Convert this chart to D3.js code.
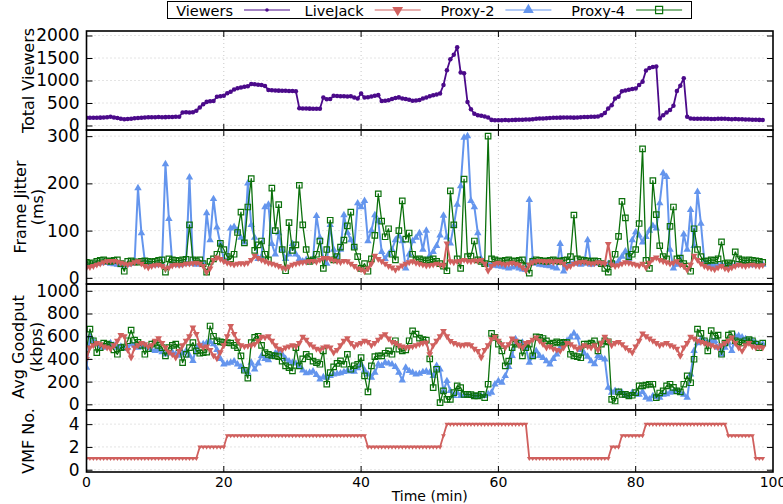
<!DOCTYPE html>
<html>
<head>
<meta charset="utf-8">
<script src="https://cdn.jsdelivr.net/npm/d3@7"></script>
<style>
  body { margin: 0; background: #fff; }
  svg { display: block; font-family: "DejaVu Sans", sans-serif; }
</style>
</head>
<body>
<svg id="viz" width="783" height="504"></svg>
<script>
// all series are sampled every half minute, starting at t = 0
const timeStep = 0.5;

const viewers = [
  170, 172, 170, 172, 175, 178, 185, 192, 180, 165,
  150, 140, 145, 152, 160, 165, 172, 180, 185, 182,
  185, 188, 183, 186, 190, 188, 192, 195, 290, 292,
  288, 295, 330, 400, 470, 525, 540, 545, 640, 650,
  660, 715, 750, 800, 830, 845, 860, 870, 920, 915,
  905, 900, 880, 790, 785, 780, 775, 772, 770, 765,
  765, 762, 385, 380, 378, 375, 372, 370, 372, 620,
  585, 590, 660, 655, 650, 648, 645, 650, 620, 600,
  710, 620, 630, 645, 660, 675, 545, 550, 560, 590,
  610, 625, 600, 590, 570, 550, 555, 565, 600, 620,
  650, 670, 690, 710, 900, 1230, 1470, 1570, 1740, 1180,
  1160, 520, 360, 260, 230, 215, 200, 180, 125, 118,
  115, 118, 120, 118, 122, 125, 128, 130, 132, 135,
  140, 150, 155, 158, 160, 165, 170, 172, 175, 178,
  180, 178, 175, 180, 185, 190, 188, 192, 195, 200,
  230, 280, 380, 450, 600, 640, 760, 780, 795, 810,
  820, 900, 975, 1220, 1280, 1300, 1310, 156, 230, 290,
  342, 440, 765, 885, 1050, 193, 156, 150, 148, 150,
  150, 148, 145, 146, 148, 150, 148, 145, 140, 142,
  140, 138, 135, 132, 130, 128, 125, 120
];

// frame jitter (ms)
const liveJackJitter = [
  22, 23, 25, 28, 30, 33, 35, 36, 36, 34,
  32, 30, 28, 30, 33, 35, 30, 25, 22, 25,
  27, 28, 25, 20, 22, 26, 28, 27, 28, 30,
  30, 31, 32, 30, 25, 12, 20, 38, 43, 40,
  35, 32, 30, 28, 30, 31, 30, 32, 38, 47,
  42, 38, 35, 32, 30, 28, 25, 22, 20, 24,
  28, 30, 32, 33, 34, 35, 36, 34, 38, 42,
  42, 40, 37, 35, 33, 36, 35, 30, 25, 20,
  18, 14, 20, 30, 47, 40, 35, 30, 25, 22,
  17, 22, 26, 30, 33, 35, 32, 30, 28, 26,
  27, 28, 30, 28, 26, 73, 35, 33, 35, 36,
  38, 36, 35, 37, 36, 38, 30, 15, 25, 30,
  32, 30, 28, 30, 32, 30, 28, 22, 16, 28,
  33, 35, 36, 35, 34, 35, 33, 35, 34, 30,
  22, 25, 30, 32, 33, 34, 32, 30, 31, 33,
  32, 30, 72, 28, 25, 27, 30, 33, 32, 30,
  28, 26, 30, 22, 32, 40, 43, 38, 35, 33,
  30, 32, 35, 28, 25, 17, 28, 47, 38, 30,
  25, 22, 20, 18, 22, 25, 20, 18, 22, 25,
  28, 26, 25, 27, 28, 26, 25, 27
];

const proxy2Jitter = [
  25, 26, 28, 30, 31, 33, 32, 30, 29, 28,
  27, 26, 28, 30, 32, 190, 95, 35, 30, 28,
  27, 28, 30, 241, 125, 30, 28, 27, 29, 30,
  213, 30, 28, 30, 32, 137, 80, 167, 107, 72,
  40, 35, 105, 108, 100, 85, 75, 200, 112, 85,
  40, 45, 150, 155, 72, 50, 95, 60, 40, 50,
  72, 50, 40, 35, 38, 35, 40, 131, 85, 40,
  30, 112, 60, 40, 60, 133, 96, 80, 65, 158,
  150, 163, 78, 100, 133, 120, 55, 40, 50, 60,
  80, 89, 78, 20, 50, 78, 85, 95, 60, 100,
  47, 55, 68, 90, 132, 86, 73, 110, 155, 194,
  297, 300, 163, 150, 95, 40, 30, 28, 27, 26,
  25, 24, 22, 20, 22, 24, 20, 18, 17, 165,
  40, 30, 28, 27, 26, 25, 22, 20, 72, 14,
  25, 30, 32, 30, 28, 30, 80, 28, 30, 32,
  30, 28, 30, 32, 28, 35, 45, 56, 40, 80,
  97, 90, 75, 87, 100, 110, 105, 158, 222, 214,
  60, 20, 28, 30, 92, 60, 144, 68, 182, 115,
  35, 28, 27, 25, 26, 28, 27, 25, 26, 27,
  28, 30, 29, 28, 27, 28, 29, 28
];

const proxy4Jitter = [
  33, 30, 32, 35, 37, 38, 36, 35, 37, 38,
  30, 14, 35, 36, 34, 33, 35, 36, 35, 34,
  35, 37, 38, 12, 40, 38, 37, 36, 38, 39,
  112, 38, 36, 38, 30, 12, 35, 40, 50, 73,
  60, 45, 40, 50, 96, 139, 74, 150, 210, 58,
  70, 78, 50, 38, 190, 100, 155, 60, 15, 117,
  58, 70, 196, 112, 60, 35, 38, 50, 78, 20,
  60, 122, 38, 45, 65, 80, 110, 139, 65, 45,
  20, 30, 14, 40, 90, 178, 120, 87, 104, 50,
  38, 100, 163, 82, 95, 50, 38, 40, 38, 36,
  38, 40, 35, 30, 25, 15, 184, 112, 40, 20,
  209, 45, 46, 78, 38, 35, 30, 300, 40, 38,
  36, 35, 37, 38, 36, 35, 37, 38, 25, 10,
  35, 38, 37, 36, 35, 37, 38, 36, 35, 37,
  38, 45, 133, 40, 38, 37, 36, 35, 36, 35,
  30, 20, 12, 30, 50, 88, 162, 127, 45, 50,
  60, 115, 273, 37, 20, 206, 134, 68, 45, 40,
  109, 150, 40, 42, 30, 25, 14, 104, 60, 45,
  35, 36, 38, 37, 40, 76, 30, 32, 30, 55,
  40, 38, 36, 38, 37, 36, 35, 33
];

// average goodput (kbps)
const liveJackGoodput = [
  400, 500, 520, 540, 530, 510, 500, 490, 520, 560,
  610, 600, 480, 412, 500, 520, 540, 530, 510, 520,
  560, 583, 540, 500, 460, 440, 412, 470, 520, 560,
  600, 677, 620, 520, 500, 510, 480, 430, 405, 460,
  520, 600, 690, 620, 560, 520, 510, 515, 520, 530,
  560, 595, 590, 600, 560, 520, 490, 480, 500, 510,
  520, 510, 540, 595, 570, 530, 510, 490, 480, 500,
  510, 500, 456, 480, 520, 560, 583, 540, 510, 530,
  540, 560, 550, 520, 540, 570, 600, 618, 580, 550,
  540, 520, 510, 500, 505, 510, 520, 530, 540, 544,
  441, 520, 560, 600, 647, 600, 559, 540, 530, 520,
  525, 530, 520, 490, 470, 412, 480, 520, 574, 595,
  560, 530, 500, 530, 580, 560, 520, 500, 540, 550,
  570, 590, 560, 530, 500, 510, 490, 480, 471, 500,
  540, 530, 510, 490, 500, 520, 510, 500, 520, 480,
  540, 595, 560, 520, 540, 550, 530, 500, 480, 456,
  510, 560, 625, 600, 580, 560, 540, 520, 530, 540,
  520, 510, 490, 427, 500, 540, 595, 580, 560, 550,
  540, 530, 520, 510, 500, 520, 540, 560, 590, 540,
  500, 471, 520, 540, 510, 500, 505, 500
];

const proxy2Goodput = [
  324, 600, 560, 530, 510, 500, 520, 540, 520, 500,
  510, 490, 500, 530, 520, 500, 510, 520, 500, 480,
  470, 480, 460, 440, 450, 460, 440, 430, 450, 470,
  430, 383, 500, 520, 530, 540, 550, 530, 480, 400,
  353, 360, 368, 380, 353, 330, 300, 280, 368, 309,
  360, 427, 400, 390, 420, 450, 470, 440, 400, 380,
  368, 360, 339, 300, 274, 280, 290, 260, 221, 240,
  236, 250, 265, 270, 274, 285, 294, 290, 289, 320,
  353, 300, 265, 236, 280, 353, 340, 368, 360, 353,
  330, 280, 212, 324, 294, 280, 265, 270, 285, 290,
  280, 250, 339, 309, 118, 206, 118, 74, 103, 74,
  80, 74, 74, 70, 74, 72, 74, 90, 103, 177,
  206, 192, 250, 330, 427, 574, 540, 544, 500, 368,
  420, 471, 427, 410, 380, 353, 400, 441, 500, 544,
  560, 590, 625, 590, 480, 450, 420, 380, 354, 427,
  410, 397, 147, 103, 120, 110, 103, 80, 74, 103,
  90, 85, 110, 60, 44, 74, 65, 59, 85, 90,
  103, 110, 118, 100, 85, 59, 265, 471, 540, 574,
  560, 544, 550, 559, 500, 441, 500, 544, 470, 600,
  603, 590, 574, 560, 559, 540, 520, 530
];

const proxy4Goodput = [
  486, 662, 560, 456, 500, 540, 530, 520, 480, 441,
  500, 505, 560, 653, 565, 545, 520, 441, 490, 530,
  540, 520, 500, 427, 500, 520, 530, 500, 368, 441,
  500, 544, 471, 450, 456, 460, 690, 600, 560, 550,
  545, 544, 540, 520, 500, 427, 300, 230, 544, 590,
  600, 520, 456, 440, 430, 427, 420, 380, 339, 324,
  295, 500, 339, 400, 441, 420, 380, 368, 353, 471,
  177, 280, 330, 360, 383, 353, 441, 309, 340, 353,
  412, 250, 110, 339, 420, 427, 427, 450, 471, 441,
  560, 486, 471, 480, 560, 647, 618, 583, 570, 565,
  400, 147, 309, 15, 118, 44, 44, 103, 162, 147,
  88, 88, 85, 74, 74, 88, 59, 177, 625, 590,
  530, 470, 339, 380, 500, 530, 540, 427, 500, 530,
  427, 595, 590, 580, 559, 530, 540, 550, 540, 545,
  544, 441, 427, 420, 410, 530, 530, 540, 559, 471,
  530, 559, 550, 44, 29, 110, 88, 88, 74, 80,
  103, 162, 162, 170, 177, 177, 59, 100, 118, 162,
  177, 150, 118, 110, 177, 250, 190, 397, 662, 625,
  560, 471, 650, 600, 610, 441, 540, 610, 620, 560,
  550, 540, 560, 570, 560, 530, 500, 540
];

// VMF number in use
const vmfNumber = [
  1, 1, 1, 1, 1, 1, 1, 1, 1, 1,
  1, 1, 1, 1, 1, 1, 1, 1, 1, 1,
  1, 1, 1, 1, 1, 1, 1, 1, 1, 1,
  1, 1, 1, 2, 2, 2, 2, 2, 2, 2,
  2, 3, 3, 3, 3, 3, 3, 3, 3, 3,
  3, 3, 3, 3, 3, 3, 3, 3, 3, 3,
  3, 3, 3, 3, 3, 3, 3, 3, 3, 3,
  3, 3, 3, 3, 3, 3, 3, 3, 3, 3,
  3, 3, 2, 2, 2, 2, 2, 2, 2, 2,
  2, 2, 2, 2, 2, 2, 2, 2, 2, 2,
  2, 2, 2, 2, 3, 4, 4, 4, 4, 4,
  4, 4, 4, 4, 4, 4, 4, 4, 4, 4,
  4, 4, 4, 4, 4, 4, 4, 4, 4, 1,
  1, 1, 1, 1, 1, 1, 1, 1, 1, 1,
  1, 1, 1, 1, 1, 1, 1, 1, 1, 1,
  1, 1, 1, 2, 2, 2, 3, 3, 3, 3,
  3, 3, 3, 4, 4, 4, 4, 4, 4, 4,
  4, 4, 4, 4, 4, 4, 4, 4, 4, 4,
  4, 4, 4, 4, 4, 4, 4, 3, 3, 3,
  3, 3, 3, 3, 3, 1, 1, 1
];

const xTicks = [0, 20, 40, 60, 80, 100];

const colors = {
  viewers: "#4b0a8a",
  liveJack: "#d0605e",
  proxy2: "#6495ed",
  proxy4: "#0b700b",
};

const svg = d3.select("#viz");
svg.append("rect").attr("width", 783).attr("height", 504).attr("fill", "#fff");

const x = d3.scaleLinear().domain([0, 100]).range([86.5, 773]);
const toPoints = (arr) => arr.map((v, i) => [i * timeStep, v]);

// marker shapes
const triUp = (s) => d3.symbol().type(d3.symbolTriangle).size(s)();
const square = (s) => d3.symbol().type(d3.symbolSquare).size(s)();
const circle = (s) => d3.symbol().type(d3.symbolCircle).size(s)();

const panels = [
  {
    top: 31, bottom: 130, domain: [-100, 2100], ticks: [0, 500, 1000, 1500, 2000],
    labels: [["Total Viewers", 34]],
    series: [
      { data: viewers, color: colors.viewers, width: 1.8, marker: "dot", msize: 16 },
    ],
  },
  {
    top: 130, bottom: 284, domain: [-13, 313], ticks: [0, 100, 200, 300],
    labels: [["Frame Jitter", 26], ["(ms)", 43]],
    series: [
      { data: proxy2Jitter, color: colors.proxy2, width: 2, marker: "up", msize: 24 },
      { data: proxy4Jitter, color: colors.proxy4, width: 1.3, marker: "square", msize: 30 },
      { data: liveJackJitter, color: colors.liveJack, width: 2, marker: "down", msize: 20 },
    ],
  },
  {
    top: 284, bottom: 410, domain: [-50, 1060], ticks: [0, 200, 400, 600, 800, 1000],
    labels: [["Avg Goodput", 24], ["(kbps)", 42]],
    series: [
      { data: proxy2Goodput, color: colors.proxy2, width: 2, marker: "up", msize: 24 },
      { data: proxy4Goodput, color: colors.proxy4, width: 1.3, marker: "square", msize: 30 },
      { data: liveJackGoodput, color: colors.liveJack, width: 2, marker: "down", msize: 20 },
    ],
  },
  {
    top: 410, bottom: 472, domain: [-0.2, 5.24], ticks: [0, 2, 4],
    labels: [["VMF No.", 34]],
    series: [
      { data: vmfNumber, color: colors.liveJack, width: 1.8, marker: "down", msize: 10 },
    ],
  },
];

function drawMarkers(g, pts, s, xs, ys) {
  const sel = g.selectAll(null).data(pts).enter().append("path")
    .attr("fill", s.marker === "square" ? "none" : s.color)
    .attr("stroke", s.marker === "square" ? s.color : "none")
    .attr("stroke-width", 1.2);
  if (s.marker === "dot") {
    sel.attr("d", circle(s.msize)).attr("transform", (d) => `translate(${xs(d[0])},${ys(d[1])})`);
  } else if (s.marker === "up") {
    sel.attr("d", triUp(s.msize)).attr("transform", (d) => `translate(${xs(d[0])},${ys(d[1])})`);
  } else if (s.marker === "down") {
    sel.attr("d", triUp(s.msize)).attr("transform", (d) => `translate(${xs(d[0])},${ys(d[1])}) rotate(180)`);
  } else {
    sel.attr("d", square(s.msize)).attr("transform", (d) => `translate(${xs(d[0])},${ys(d[1])})`);
  }
}

panels.forEach((p, pi) => {
  const y = d3.scaleLinear().domain(p.domain).range([p.bottom, p.top]);
  const g = svg.append("g");

  // dotted grid
  g.selectAll(null).data(p.ticks).enter().append("line")
    .attr("x1", x(0)).attr("x2", x(100))
    .attr("y1", (d) => y(d)).attr("y2", (d) => y(d))
    .attr("stroke", "#c8c8c8").attr("stroke-width", 1).attr("stroke-dasharray", "1,3");
  g.selectAll(null).data(xTicks.slice(1, -1)).enter().append("line")
    .attr("x1", (d) => x(d)).attr("x2", (d) => x(d))
    .attr("y1", p.top).attr("y2", p.bottom)
    .attr("stroke", "#c8c8c8").attr("stroke-width", 1).attr("stroke-dasharray", "1,3");

  // data
  const clip = "clip" + pi;
  svg.append("clipPath").attr("id", clip).append("rect")
    .attr("x", x(0)).attr("y", p.top).attr("width", x(100) - x(0)).attr("height", p.bottom - p.top);
  const dg = g.append("g").attr("clip-path", `url(#${clip})`);
  p.series.forEach((s) => {
    const pts = toPoints(s.data);
    dg.append("path")
      .attr("d", d3.line().x((d) => x(d[0])).y((d) => y(d[1]))(pts))
      .attr("fill", "none").attr("stroke", s.color).attr("stroke-width", s.width)
      .attr("stroke-linejoin", "round");
    drawMarkers(dg, pts, s, x, y);
  });

  // y ticks, left & mirrored right, inward
  const yAxisL = d3.axisLeft(y).tickValues(p.ticks).tickFormat(d3.format("d"))
    .tickSizeInner(-6).tickSizeOuter(0).tickPadding(7);
  const ga = g.append("g").attr("transform", `translate(${x(0)},0)`).call(yAxisL);
  ga.select(".domain").remove();
  ga.selectAll("line").attr("stroke", "#000");
  ga.selectAll("text").attr("font-size", 17).attr("font-family", "DejaVu Sans").attr("fill", "#000");
  const yAxisR = d3.axisRight(y).tickValues(p.ticks).tickSizeInner(-6).tickSizeOuter(0).tickFormat("");
  const gr = g.append("g").attr("transform", `translate(${x(100)},0)`).call(yAxisR);
  gr.select(".domain").remove();
  gr.selectAll("line").attr("stroke", "#000");

  // x ticks top and bottom, inward
  g.selectAll(null).data(xTicks.slice(1, -1)).enter().append("line")
    .attr("x1", (d) => x(d)).attr("x2", (d) => x(d))
    .attr("y1", p.top).attr("y2", p.top + 6).attr("stroke", "#000");
  g.selectAll(null).data(xTicks.slice(1, -1)).enter().append("line")
    .attr("x1", (d) => x(d)).attr("x2", (d) => x(d))
    .attr("y1", p.bottom).attr("y2", p.bottom - 6).attr("stroke", "#000");

  // frame
  g.append("rect")
    .attr("x", x(0)).attr("y", p.top).attr("width", x(100) - x(0)).attr("height", p.bottom - p.top)
    .attr("fill", "none").attr("stroke", "#000").attr("stroke-width", 1.6);

  // axis label(s)
  const cy = (p.top + p.bottom) / 2;
  p.labels.forEach(([txt, bx]) => {
    svg.append("text")
      .attr("transform", `translate(${bx},${cy}) rotate(-90)`)
      .attr("text-anchor", "middle").attr("font-size", 16).attr("fill", "#000")
      .text(txt);
  });

  // x tick labels only under the last panel
  if (pi === panels.length - 1) {
    svg.selectAll(null).data(xTicks).enter().append("text")
      .attr("x", (d) => x(d)).attr("y", p.bottom + 15)
      .attr("text-anchor", "middle").attr("font-size", 14).attr("fill", "#000")
      .text((d) => d);
    svg.append("text")
      .attr("x", (x(0) + x(100)) / 2).attr("y", 501)
      .attr("text-anchor", "middle").attr("font-size", 14).attr("fill", "#000")
      .text("Time (min)");
  }
});

// legend
const legendItems = [
  { name: "Viewers", color: colors.viewers, marker: "dot", msize: 10 },
  { name: "LiveJack", color: colors.liveJack, marker: "down", msize: 50 },
  { name: "Proxy-2", color: colors.proxy2, marker: "up", msize: 50 },
  { name: "Proxy-4", color: colors.proxy4, marker: "square", msize: 50 },
];
const lg = svg.append("g");
lg.append("rect").attr("x", 167.5).attr("y", 1.5).attr("width", 524).attr("height", 17)
  .attr("fill", "#fff").attr("stroke", "#000").attr("stroke-width", 1);
legendItems.forEach((it, i) => {
  const sx = 244 + i * 130.7;
  lg.append("text").attr("x", sx - 11).attr("y", 15.5).attr("text-anchor", "end")
    .attr("font-size", 14.5).attr("fill", "#000").text(it.name);
  lg.append("line").attr("x1", sx).attr("x2", sx + 46).attr("y1", 10).attr("y2", 10)
    .attr("stroke", it.color).attr("stroke-width", 1.2);
  drawMarkers(lg, [[sx + 23, 10]], it, (v) => v, (v) => v);
});
</script>
</body>
</html>
